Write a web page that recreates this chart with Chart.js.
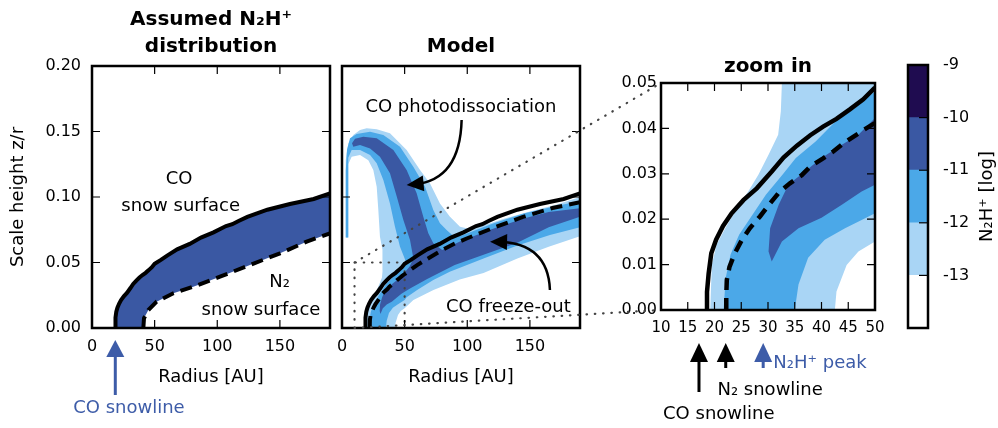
<!DOCTYPE html>
<html>
<head>
<meta charset="utf-8">
<script src="https://cdn.jsdelivr.net/npm/chart.js@4.4.1/dist/chart.umd.min.js"></script>
<style>
body { margin: 0; background: #fff; }
#fig { position: relative; width: 998px; height: 428px; }
#fig canvas { position: absolute; left: 0; top: 0; }
</style>
</head>
<body>
<div id="fig">
<canvas id="assumed" width="998" height="428"></canvas>
<canvas id="model" width="998" height="428"></canvas>
<canvas id="zoom" width="998" height="428"></canvas>
<canvas id="cbar" width="998" height="428"></canvas>
</div>
<script>
// [radius AU, z/r] pairs
var coSnowSurface = [
  [18.6, 0], [18.6, 0.004], [18.9, 0.008], [19.4, 0.0125], [20.3, 0.0155], [21.6, 0.0185],
  [23.2, 0.0213], [25.4, 0.0242], [27.9, 0.0268], [30.7, 0.0305], [32.9, 0.0336], [35.4, 0.0362],
  [37.9, 0.0385], [40.3, 0.0404], [42.8, 0.0421], [45.3, 0.0442], [47.8, 0.0464], [50, 0.049],
  [55, 0.052], [60, 0.0553], [68, 0.06], [78, 0.0642], [87, 0.069], [97, 0.073],
  [107, 0.0778], [112, 0.0792], [117, 0.0817], [124, 0.0848], [140, 0.0903], [158, 0.0947],
  [177, 0.0985], [190, 0.1028]
];
var n2SnowSurface = [
  [22.2, 0], [22.2, 0.0033], [22.3, 0.0066], [22.8, 0.0095], [23.8, 0.0125], [25.1, 0.0154],
  [26.6, 0.018], [28.5, 0.0206], [30.4, 0.0235], [32.2, 0.0261], [34.1, 0.0279], [36.3, 0.0297],
  [37.9, 0.0316], [40.3, 0.0334], [42.2, 0.0349], [44.1, 0.0367], [46, 0.0382], [47.8, 0.0396],
  [50, 0.0412], [60, 0.048], [70, 0.0538], [80, 0.0595], [90, 0.0645], [100, 0.0685],
  [120, 0.0761], [144, 0.0847], [168, 0.0916], [190, 0.096]
];
var n2SnowSurfaceAssumed = [
  [41, 0], [41.5, 0.0074], [45, 0.0137], [51.6, 0.0201], [64.9, 0.0265], [80.9, 0.0315],
  [102.2, 0.0392], [126.1, 0.0481], [150.1, 0.057], [171.4, 0.0659], [190, 0.0723]
];
// N2H+ contour outlines (closed loops)
var n2hDark = [ // -11 .. -10
  [8, 0.141], [10.4, 0.1445], [17, 0.146], [27.7, 0.1448], [41, 0.1359], [51.6, 0.1206],
  [59.6, 0.1028], [64.9, 0.085], [68.9, 0.0723], [72.9, 0.0646],
  [80, 0.0595], [95, 0.0665], [120, 0.0755], [145, 0.0835], [165, 0.0885], [190, 0.0915],
  [190, 0.085], [165, 0.077], [140, 0.065], [113, 0.056], [90, 0.048], [68, 0.0375], [55, 0.0305],
  [50, 0.0276], [47.5, 0.0261], [43.8, 0.0232], [40, 0.0203], [35.7, 0.018], [32.6, 0.0151],
  [30.7, 0.0107], [30.1, 0.0129], [30.4, 0.018], [32, 0.0232], [33.8, 0.0276], [36.9, 0.0305],
  [40, 0.0335], [43.8, 0.0364], [46.9, 0.0386], [50, 0.0423], [54, 0.047],
  [57, 0.053], [54.3, 0.0672], [49, 0.0825], [43.7, 0.1003], [38.3, 0.1181], [30.3, 0.1308],
  [22.4, 0.1371], [14.4, 0.1397], [9, 0.1384]
];
var n2hMid = [ // -12 .. -11
  [3, 0.069], [3, 0.12], [4, 0.136], [6.4, 0.1448], [11.7, 0.148], [22.4, 0.1499], [33, 0.1473],
  [46.3, 0.1384], [56.9, 0.1231], [66.3, 0.1079], [72.9, 0.0901], [78.2, 0.0799], [83.5, 0.0748],
  [88, 0.071], [95, 0.0705], [120, 0.0795], [145, 0.0875], [170, 0.093], [190, 0.097],
  [190, 0.077], [166, 0.071], [140, 0.063], [113, 0.053], [86, 0.043], [72.9, 0.0366], [60, 0.029],
  [51.6, 0.0235], [50, 0.0213], [47.5, 0.0198], [44.4, 0.018], [40.6, 0.0155], [37.5, 0.0115],
  [35.7, 0.0056], [35, 0], [21.7, 0], [22.1, 0.0071], [23, 0.0122], [24.6, 0.0166], [27.1, 0.021],
  [29.6, 0.0254], [32.7, 0.0298], [35.2, 0.0335], [38.9, 0.0371], [42.6, 0.0415], [46.3, 0.0445],
  [50, 0.0482], [50.5, 0.052], [46.3, 0.062], [42.3, 0.0773], [38.3, 0.0951], [33, 0.113],
  [27.7, 0.1257], [22.4, 0.132], [14.4, 0.1358], [7.7, 0.1358], [5, 0.13], [5, 0.069]
];
var n2hLight = [ // -13 .. -12
  [3, 0.069], [3, 0.128], [3.7, 0.1333], [5.1, 0.141], [9, 0.1473], [14.4, 0.1511], [19.7, 0.1524],
  [27.7, 0.1517], [38.3, 0.1486], [51.6, 0.1359], [62.3, 0.1206], [70.3, 0.1104], [78.2, 0.0951],
  [86.2, 0.085], [94.2, 0.0773], [102, 0.0755], [115, 0.079], [130, 0.0835], [150, 0.089],
  [171, 0.094], [190, 0.1], [190, 0.07], [165, 0.062], [140, 0.053], [113, 0.042], [94, 0.037],
  [86, 0.034], [73, 0.029], [57, 0.0214], [50, 0.0151], [46.9, 0.0129], [44.7, 0.0099],
  [42.8, 0.0041], [42.5, 0], [19.2, 0], [19.5, 0.01], [20.4, 0.0144], [22, 0.018], [23.8, 0.0217],
  [26.3, 0.0261], [28.2, 0.0298], [30.1, 0.0342], [31.9, 0.0386], [32.4, 0.0438], [32.6, 0.05],
  [32, 0.06], [30.3, 0.0697], [29, 0.0901], [27.7, 0.1079], [25, 0.1206], [21, 0.128],
  [14.4, 0.132], [7.7, 0.1308], [5, 0.125], [5, 0.069]
];
var zoomX = [10, 50];
var zoomY = [0, 0.05];
var colorLevels = [-14, -13, -12, -11, -10, -9];
var coSnowlineAssumed = 18.6;
var coSnowline = 17.1, n2Snowline = 22.1, n2hPeak = 29.1;

var colDarkest = '#1f0c50', colDark = '#3a58a3', colMid = '#4ba8e8', colLight = '#a9d5f5';
var blueText = '#3d5ca8';
var colorbarColors = ['#ffffff', colLight, colMid, colDark, colDarkest];

Chart.defaults.font.family = "'DejaVu Sans', sans-serif";
Chart.defaults.color = '#000';

function pts(a) { return a.map(function (p) { return { x: p[0], y: p[1] }; }); }

function lineSet(a, width, dash, order) {
  return { data: pts(a), borderColor: '#000', borderWidth: width, borderDash: dash || [],
           fill: false, order: order, clip: 0 };
}
function areaSet(a, color, order) {
  return { data: pts(a), borderColor: 'transparent', borderWidth: 0, backgroundColor: color,
           fill: 'shape', order: order, clip: 0 };
}

function arrowHead(ctx, tx, ty, ang, len, half) {
  var bx = tx - len * Math.cos(ang), by = ty - len * Math.sin(ang);
  ctx.beginPath();
  ctx.moveTo(tx, ty);
  ctx.lineTo(bx + half * Math.sin(ang), by - half * Math.cos(ang));
  ctx.lineTo(bx - half * Math.sin(ang), by + half * Math.cos(ang));
  ctx.closePath();
  ctx.fill();
}

// frame + inward ticks like the matplotlib original
var frameTicks = {
  id: 'frameTicks',
  afterDatasetsDraw: function (chart, args, o) {
    var ctx = chart.ctx, a = chart.chartArea, L = o.len || 8;
    ctx.save();
    ctx.strokeStyle = '#000';
    ctx.lineWidth = 1.2;
    var xs = chart.scales.x, ys = chart.scales.y;
    if (o.x) xs.ticks.forEach(function (t) {
      var p = xs.getPixelForValue(t.value);
      if (p < a.left + 2 || p > a.right - 2) return;
      ctx.beginPath();
      if (o.x.indexOf('b') >= 0) { ctx.moveTo(p, a.bottom); ctx.lineTo(p, a.bottom - L); }
      if (o.x.indexOf('t') >= 0) { ctx.moveTo(p, a.top); ctx.lineTo(p, a.top + L); }
      ctx.stroke();
    });
    if (o.y) ys.ticks.forEach(function (t) {
      var p = ys.getPixelForValue(t.value);
      if (p < a.top + 2 || p > a.bottom - 2) return;
      ctx.beginPath();
      if (o.y.indexOf('l') >= 0) { ctx.moveTo(a.left, p); ctx.lineTo(a.left + L, p); }
      if (o.y.indexOf('r') >= 0) { ctx.moveTo(a.right, p); ctx.lineTo(a.right - L, p); }
      ctx.stroke();
    });
    ctx.lineWidth = 2.5;
    ctx.strokeRect(a.left, a.top, a.right - a.left, a.bottom - a.top);
    ctx.restore();
  }
};

var notes = {
  id: 'notes',
  afterDraw: function (chart, args, o) {
    var ctx = chart.ctx, a = chart.chartArea, sx = chart.scales.x, sy = chart.scales.y;
    ctx.save();
    ctx.textBaseline = 'alphabetic';
    (o.titles || []).forEach(function (t) {
      ctx.font = "bold 20px 'DejaVu Sans'";
      ctx.fillStyle = '#000';
      ctx.textAlign = 'center';
      ctx.fillText(t.text, (a.left + a.right) / 2, t.y);
    });
    (o.labels || []).forEach(function (t) {
      ctx.font = "18px 'DejaVu Sans'";
      ctx.fillStyle = t.color || '#000';
      ctx.textAlign = t.align || 'center';
      var py = t.dy !== undefined ? a.bottom + t.dy : sy.getPixelForValue(t.y);
      ctx.fillText(t.text, sx.getPixelForValue(t.x), py);
    });
    (o.curved || []).forEach(function (c) {
      var x0 = sx.getPixelForValue(c.from[0]), y0 = sy.getPixelForValue(c.from[1]);
      var x1 = sx.getPixelForValue(c.ctrl[0]), y1 = sy.getPixelForValue(c.ctrl[1]);
      var x2 = sx.getPixelForValue(c.to[0]), y2 = sy.getPixelForValue(c.to[1]);
      var ang = Math.atan2(y2 - y1, x2 - x1);
      ctx.strokeStyle = '#000';
      ctx.fillStyle = '#000';
      ctx.lineWidth = 2.5;
      ctx.beginPath();
      ctx.moveTo(x0, y0);
      ctx.quadraticCurveTo(x1, y1, x2 - 8 * Math.cos(ang), y2 - 8 * Math.sin(ang));
      ctx.stroke();
      arrowHead(ctx, x2, y2, ang, 17, 8);
    });
    (o.upArrows || []).forEach(function (u) {
      var px = sx.getPixelForValue(u.x);
      ctx.strokeStyle = u.color;
      ctx.fillStyle = u.color;
      ctx.lineWidth = 3;
      ctx.beginPath();
      ctx.moveTo(px, a.bottom + u.tail);
      ctx.lineTo(px, a.bottom + u.base);
      ctx.stroke();
      arrowHead(ctx, px, a.bottom + u.tip, -Math.PI / 2, u.base - u.tip, 9);
    });
    if (o.sideLabel) {
      ctx.font = "18px 'DejaVu Sans'";
      ctx.fillStyle = '#000';
      ctx.textAlign = 'center';
      ctx.textBaseline = 'middle';
      ctx.translate(a.right + o.sideLabel.dx, (a.top + a.bottom) / 2);
      ctx.rotate(-Math.PI / 2);
      ctx.fillText(o.sideLabel.text, 0, 0);
    }
    ctx.restore();
  }
};

function radiusAxis() {
  return {
    type: 'linear', min: 0, max: 190,
    grid: { display: false, drawTicks: false }, border: { display: false },
    ticks: { stepSize: 50, padding: 9, font: { size: 16 }, includeBounds: false, autoSkip: false, maxRotation: 0 },
    title: { display: true, text: 'Radius [AU]', font: { size: 18 }, padding: { top: 4, bottom: 4 } },
    afterFit: function (s) { s.height = 64; }
  };
}
function heightAxis(showLabels) {
  return {
    type: 'linear', min: 0, max: 0.2,
    grid: { display: false, drawTicks: false }, border: { display: false },
    ticks: { display: showLabels, stepSize: 0.05, padding: 11, font: { size: 16 },
             callback: function (v) { return v.toFixed(2); } },
    title: { display: showLabels, text: 'Scale height z/r', font: { size: 18 }, padding: { top: 4, bottom: 4 } },
    afterFit: function (s) { s.width = showLabels ? 88 : 0; }
  };
}
function baseOptions(pad, scales, pluginOpts) {
  return {
    responsive: false, animation: false, devicePixelRatio: 1, events: [],
    layout: { padding: pad },
    elements: { point: { radius: 0, hoverRadius: 0 }, line: { tension: 0 } },
    plugins: Object.assign({ legend: { display: false }, tooltip: { enabled: false } }, pluginOpts),
    scales: scales
  };
}

// panel 1: assumed distribution
new Chart(document.getElementById('assumed'), {
  type: 'line',
  data: { datasets: [
    lineSet(coSnowSurface, 4, [], 0),
    lineSet(n2SnowSurfaceAssumed, 4, [12, 7], 1),
    areaSet(coSnowSurface.concat(n2SnowSurfaceAssumed.slice().reverse()), colDark, 2)
  ] },
  plugins: [frameTicks, notes],
  options: baseOptions({ left: 4, right: 668, top: 66, bottom: 36 },
    { x: radiusAxis(), y: heightAxis(true) },
    {
      frameTicks: { x: 'tb', y: 'lr' },
      notes: {
        titles: [{ text: 'Assumed N\u2082H\u207A', y: 25 }, { text: 'distribution', y: 52 }],
        labels: [
          { text: 'CO', x: 69.5, y: 0.1097 },
          { text: 'snow surface', x: 70.8, y: 0.0896 },
          { text: 'N\u2082', x: 149.8, y: 0.0311 },
          { text: 'snow surface', x: 134.9, y: 0.0099 },
          { text: 'CO snowline', x: 29.5, dy: 85, color: blueText }
        ],
        upArrows: [{ x: coSnowlineAssumed, tip: 12, base: 29, tail: 67, color: blueText }]
      }
    })
});

// panel 2: model
var modelChart = new Chart(document.getElementById('model'), {
  type: 'line',
  data: { datasets: [
    lineSet(coSnowSurface, 4, [], 0),
    lineSet(n2SnowSurface, 4, [12, 7], 1),
    { data: pts([[zoomX[0], zoomY[0]], [zoomX[0], zoomY[1]], [zoomX[1], zoomY[1]], [zoomX[1], zoomY[0]]]),
      borderColor: '#444', borderWidth: 2.2, borderDash: [0.5, 7.8], borderCapStyle: 'round',
      fill: false, order: 2, clip: 0 },
    areaSet(n2hDark, colDark, 3),
    areaSet(n2hMid, colMid, 4),
    areaSet(n2hLight, colLight, 5)
  ] },
  plugins: [frameTicks, notes],
  options: baseOptions({ left: 342, right: 418, top: 66, bottom: 36 },
    { x: radiusAxis(), y: heightAxis(false) },
    {
      frameTicks: { x: 'tb', y: 'lr' },
      notes: {
        titles: [{ text: 'Model', y: 52 }],
        labels: [
          { text: 'CO photodissociation', x: 94.9, y: 0.1651 },
          { text: 'CO freeze-out', x: 132.8, y: 0.0125 }
        ],
        curved: [
          { from: [95.5, 0.1588], ctrl: [94.2, 0.113], to: [51.6, 0.1092] },
          { from: [166, 0.029], ctrl: [164.5, 0.0649], to: [118.2, 0.0659] }
        ]
      }
    })
});

// dotted lines joining the zoom box to panel 3
var zoomLinks = {
  id: 'zoomLinks',
  afterDraw: function (chart) {
    var ctx = chart.ctx, mx = modelChart.scales.x, my = modelChart.scales.y;
    ctx.save();
    ctx.strokeStyle = '#444';
    ctx.lineWidth = 2.2;
    ctx.lineCap = 'round';
    ctx.setLineDash([0.5, 7.8]);
    [zoomY[1], zoomY[0]].forEach(function (v) {
      ctx.beginPath();
      ctx.moveTo(mx.getPixelForValue(zoomX[0]), my.getPixelForValue(v));
      ctx.lineTo(chart.scales.x.getPixelForValue(zoomX[0]), chart.scales.y.getPixelForValue(v));
      ctx.stroke();
    });
    ctx.restore();
  }
};

// panel 3: zoom in
new Chart(document.getElementById('zoom'), {
  type: 'line',
  data: { datasets: [
    lineSet(coSnowSurface, 4.5, [], 0),
    lineSet(n2SnowSurface, 4.5, [12, 8], 1),
    areaSet(n2hDark, colDark, 3),
    areaSet(n2hMid, colMid, 4),
    areaSet(n2hLight, colLight, 5)
  ] },
  plugins: [frameTicks, notes, zoomLinks],
  options: baseOptions({ left: 611, right: 123, top: 83, bottom: 88 },
    {
      x: { type: 'linear', min: zoomX[0], max: zoomX[1],
           grid: { display: false, drawTicks: false }, border: { display: false },
           ticks: { stepSize: 5, padding: 9, font: { size: 15 }, autoSkip: false, maxRotation: 0 },
           afterFit: function (s) { s.height = 30; } },
      y: { type: 'linear', min: zoomY[0], max: zoomY[1],
           grid: { display: false, drawTicks: false }, border: { display: false },
           ticks: { stepSize: 0.01, padding: 4, font: { size: 16 },
                    callback: function (v) { return v.toFixed(2); } },
           afterFit: function (s) { s.width = 50; } }
    },
    {
      frameTicks: { x: 'tb', y: 'lr' },
      notes: {
        titles: [{ text: 'zoom in', y: 72 }],
        labels: [
          { text: 'CO snowline', x: 20.8, dy: 109 },
          { text: 'N\u2082 snowline', x: 30.4, dy: 85 },
          { text: 'N\u2082H\u207A peak', x: 31, dy: 58, align: 'left', color: blueText }
        ],
        upArrows: [
          { x: coSnowline, tip: 33, base: 52, tail: 82, color: '#000' },
          { x: n2Snowline, tip: 33, base: 52, tail: 58, color: '#000' },
          { x: n2hPeak, tip: 33, base: 52, tail: 58, color: blueText }
        ]
      }
    })
});

// colour bar
new Chart(document.getElementById('cbar'), {
  type: 'bar',
  data: {
    labels: ['N2H+'],
    datasets: colorbarColors.map(function (c, i) {
      return { data: [[colorLevels[i], colorLevels[i + 1]]], backgroundColor: c, borderWidth: 0,
               grouped: false, barPercentage: 1, categoryPercentage: 1 };
    })
  },
  plugins: [frameTicks, notes],
  options: baseOptions({ left: 908, right: 30, top: 65, bottom: 100 },
    {
      x: { display: false },
      y: { position: 'right', min: colorLevels[0], max: colorLevels[colorLevels.length - 1],
           grid: { display: false, drawTicks: false }, border: { display: false },
           ticks: { stepSize: 1, padding: 15, font: { size: 16 },
                    callback: function (v) { return v === colorLevels[0] ? '' : String(v); } },
           afterFit: function (s) { s.width = 40; } }
    },
    {
      frameTicks: { y: 'r', len: 9 },
      notes: { sideLabel: { text: 'N\u2082H\u207A [log]', dx: 59 } }
    })
});
</script>
</body>
</html>
